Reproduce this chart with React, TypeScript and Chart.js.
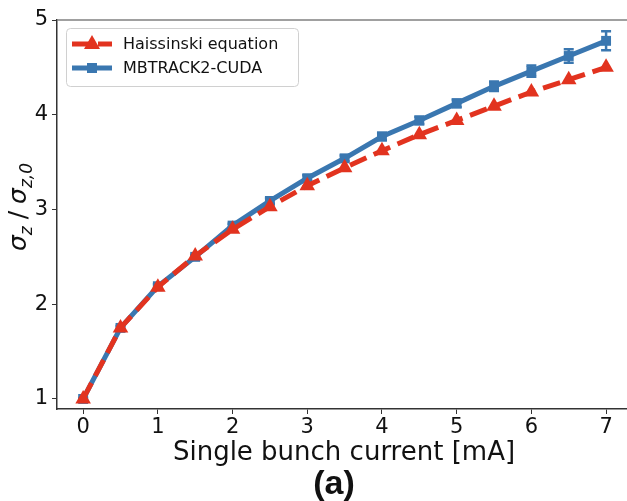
import React, { useEffect, useRef } from "react";
import { Chart, registerables } from "chart.js";

Chart.register(...registerables);

// Bunch current in mA
const currents = [0, 0.5, 1, 1.5, 2, 2.5, 3, 3.5, 4, 4.5, 5, 5.5, 6, 6.5, 7];
// Bunch lengthening ratio from the Haissinski equation
const haissinski = [1.0, 1.75, 2.18, 2.51, 2.79, 3.03, 3.25, 3.44, 3.62, 3.79, 3.94, 4.09, 4.24, 4.37, 4.5];
// Bunch lengthening ratio from MBTRACK2-CUDA simulations, with spread
const mbtrack = [1.0, 1.75, 2.19, 2.5, 2.83, 3.09, 3.33, 3.54, 3.77, 3.94, 4.12, 4.3, 4.46, 4.62, 4.78];
const mbtrackErr = [0.01, 0.02, 0.02, 0.02, 0.02, 0.03, 0.03, 0.03, 0.04, 0.04, 0.04, 0.05, 0.06, 0.07, 0.1];

const xTicks = [0, 1, 2, 3, 4, 5, 6, 7];
const yTicks = [1, 2, 3, 4, 5];

const RED = "#e2331f";
const BLUE = "#3a77b0";
const FONT = "'DejaVu Sans', sans-serif";

const decorPlugin = {
  id: "decor",
  beforeDatasetsDraw(chart: any) {
    const { ctx, scales } = chart;
    const xs = scales.x;
    const ys = scales.y;
    ctx.save();
    ctx.strokeStyle = BLUE;
    ctx.lineWidth = 2.5;
    currents.forEach((c, i) => {
      const px = xs.getPixelForValue(c);
      const top = ys.getPixelForValue(mbtrack[i] + mbtrackErr[i]);
      const bot = ys.getPixelForValue(mbtrack[i] - mbtrackErr[i]);
      ctx.beginPath();
      ctx.moveTo(px, top);
      ctx.lineTo(px, bot);
      ctx.moveTo(px - 5, top);
      ctx.lineTo(px + 5, top);
      ctx.moveTo(px - 5, bot);
      ctx.lineTo(px + 5, bot);
      ctx.stroke();
    });
    ctx.restore();
  },
  afterDraw(chart: any) {
    const { ctx, chartArea } = chart;
    ctx.save();
    // top spine
    ctx.strokeStyle = "#808080";
    ctx.lineWidth = 1.5;
    ctx.beginPath();
    ctx.moveTo(chartArea.left, chartArea.top);
    ctx.lineTo(chartArea.right, chartArea.top);
    ctx.stroke();

    // legend
    const lx = 66, ly = 28, lw = 232, lh = 58, r = 4;
    ctx.fillStyle = "rgba(255,255,255,0.85)";
    ctx.strokeStyle = "#d0d0d0";
    ctx.lineWidth = 1;
    ctx.beginPath();
    ctx.roundRect(lx + 0.5, ly + 0.5, lw, lh, r);
    ctx.fill();
    ctx.stroke();

    const ds = chart.data.datasets;
    const rows = [44, 68];
    rows.forEach((yy, i) => {
      const d = ds[i];
      ctx.strokeStyle = d.borderColor;
      ctx.lineWidth = 5;
      ctx.setLineDash(d.borderDash || []);
      ctx.beginPath();
      ctx.moveTo(72, yy);
      ctx.lineTo(112, yy);
      ctx.stroke();
      ctx.setLineDash([]);
      ctx.fillStyle = d.borderColor;
      if (i === 0) {
        ctx.beginPath();
        ctx.moveTo(92, yy - 9);
        ctx.lineTo(100, yy + 5);
        ctx.lineTo(84, yy + 5);
        ctx.closePath();
        ctx.fill();
      } else {
        ctx.fillRect(87, yy - 5, 10, 10);
      }
      ctx.fillStyle = "#111";
      ctx.font = `16px ${FONT}`;
      ctx.textBaseline = "middle";
      ctx.textAlign = "left";
      ctx.fillText(d.label, 123, yy + 1);
    });

    // y axis title: sigma_z / sigma_{z,0}
    ctx.save();
    ctx.translate(16, 207);
    ctx.rotate(-Math.PI / 2);
    ctx.fillStyle = "#111";
    ctx.textBaseline = "alphabetic";
    ctx.textAlign = "left";
    const big = `italic 25px ${FONT}`;
    const small = `italic 17px ${FONT}`;
    // [text, font, baseline shift, gap after]
    const parts: [string, string, number, number][] = [
      ["σ", big, 0, 0],
      ["z", small, 6, 7],
      ["/", `25px ${FONT}`, 0, 7],
      ["σ", big, 0, 0],
      ["z,0", small, 6, 0],
    ];
    let total = 0;
    parts.forEach(([t, f, , g]) => {
      ctx.font = f;
      total += ctx.measureText(t).width + g;
    });
    let cx = -total / 2;
    parts.forEach(([t, f, dy, g]) => {
      ctx.font = f;
      ctx.fillText(t, cx, 10 + dy);
      cx += ctx.measureText(t).width + g;
    });
    ctx.restore();

    // x axis title and panel tag
    ctx.fillStyle = "#111";
    ctx.textAlign = "center";
    ctx.textBaseline = "alphabetic";
    ctx.font = `26px ${FONT}`;
    ctx.fillText("Single bunch current [mA]", 344, 460);
    ctx.font = `bold 34px 'Liberation Sans', Arial, sans-serif`;
    ctx.fillText("(a)", 334, 494);
    ctx.restore();
  },
};

export default function App() {
  const ref = useRef<HTMLCanvasElement | null>(null);

  useEffect(() => {
    if (!ref.current) return;
    const chart = new Chart(ref.current, {
      type: "line",
      data: {
        datasets: [
          {
            label: "Haissinski equation",
            data: currents.map((c, i) => ({ x: c, y: haissinski[i] })),
            borderColor: RED,
            backgroundColor: RED,
            borderWidth: 5,
            borderDash: [18, 8],
            pointStyle: "triangle",
            pointRadius: 9,
            pointBorderWidth: 0,
            tension: 0,
          },
          {
            label: "MBTRACK2-CUDA",
            data: currents.map((c, i) => ({ x: c, y: mbtrack[i] })),
            borderColor: BLUE,
            backgroundColor: BLUE,
            borderWidth: 5,
            pointStyle: "rect",
            pointRadius: 7,
            pointBorderWidth: 0,
            tension: 0,
          },
        ],
      },
      options: {
        animation: false,
        responsive: false,
        maintainAspectRatio: false,
        layout: { autoPadding: false, padding: { top: 20, left: 0, right: 0, bottom: 0 } },
        plugins: { legend: { display: false }, tooltip: { enabled: false } },
        scales: {
          x: {
            type: "linear",
            min: -0.35,
            max: 7.28,
            afterBuildTicks: (s: any) => {
              s.ticks = xTicks.map((v) => ({ value: v }));
            },
            afterFit: (s: any) => {
              s.height = 92;
              s.paddingLeft = 0;
              s.paddingRight = 0;
            },
            grid: { drawOnChartArea: false, tickLength: 5, color: "#333", lineWidth: 1 },
            border: { color: "#333", width: 1.5 },
            ticks: { color: "#111", font: { family: FONT, size: 21 }, padding: 1, maxRotation: 0 },
          },
          y: {
            type: "linear",
            min: 0.894,
            max: 5,
            afterBuildTicks: (s: any) => {
              s.ticks = yTicks.map((v) => ({ value: v }));
            },
            afterFit: (s: any) => {
              s.width = 57;
              s.paddingTop = 0;
              s.paddingBottom = 0;
            },
            grid: { drawOnChartArea: false, tickLength: 5, color: "#333", lineWidth: 1 },
            border: { color: "#333", width: 1.5 },
            ticks: { color: "#111", font: { family: FONT, size: 21 }, padding: 4 },
          },
        },
      },
      plugins: [decorPlugin],
    });
    return () => chart.destroy();
  }, []);

  return (
    <div style={{ position: "absolute", left: 0, top: 0, width: 627, height: 501, background: "#fff" }}>
      <canvas ref={ref} width={627} height={501} style={{ width: 627, height: 501 }} />
    </div>
  );
}
